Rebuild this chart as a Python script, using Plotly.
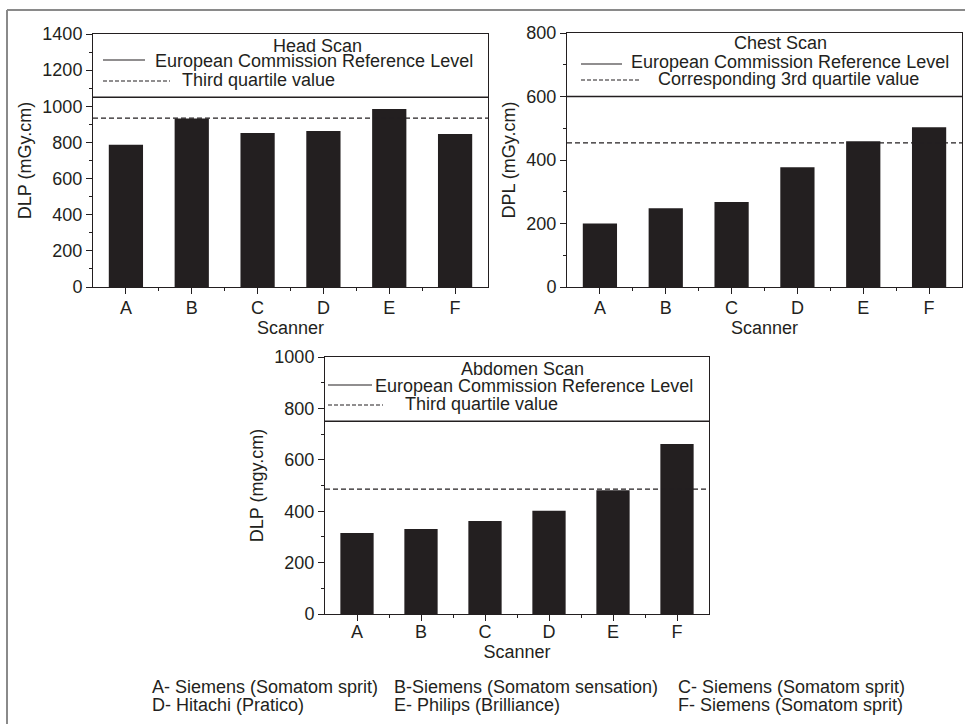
import plotly.graph_objects as go

# ---------------- data ----------------
scanners = ["A", "B", "C", "D", "E", "F"]
head_dlp = [787, 933, 852, 863, 985, 847]
chest_dlp = [200, 248, 268, 377, 459, 503]
abdomen_dlp = [315, 331, 362, 402, 482, 661]

head_ref, head_q3 = 1050, 935
chest_ref, chest_q3 = 600, 454
abdomen_ref, abdomen_q3 = 750, 486

head_ticks = [0, 200, 400, 600, 800, 1000, 1200, 1400]
chest_ticks = [0, 200, 400, 600, 800]
abdomen_ticks = [0, 200, 400, 600, 800, 1000]

legend_ref_text = "European Commission Reference Level"
footnote_rows = [
    ["A- Siemens (Somatom sprit)", "B-Siemens (Somatom sensation)", "C- Siemens (Somatom sprit)"],
    ["D- Hitachi (Pratico)", "E- Philips (Brilliance)", "F- Siemens (Somatom sprit)"],
]

# ---------------- layout helpers ----------------
W, H = 965, 724
INK = "#231f20"
FONT = "Liberation Sans, Arial, sans-serif"


def px(x):
    return x / W


def py(y):
    return 1 - y / H


xpos = list(range(len(scanners)))

fig = go.Figure()

panels = [
    # (values, ref, q3, ticks, ymax, xaxis id, yaxis id, xdom px, ydom px, ytitle, xlabel shift, xtitle standoff)
    (head_dlp, head_ref, head_q3, head_ticks, 1400, "x", "y", (93, 488), (34, 287), "DLP (mGy.cm)", -2, 0),
    (chest_dlp, chest_ref, chest_q3, chest_ticks, 800, "x2", "y2", (567, 962), (33, 287), "DPL (mGy.cm)", -2, 0),
    (abdomen_dlp, abdomen_ref, abdomen_q3, abdomen_ticks, 1000, "x3", "y3", (325, 709), (357, 614), "DLP (mgy.cm)", -5, 0),
]

shapes = []
for vals, ref, q3, ticks, ymax, xa, ya, xd, yd, ytitle, xls, xts in panels:
    fig.add_trace(go.Bar(x=xpos, y=vals, xaxis=xa, yaxis=ya, width=0.52,
                         marker=dict(color=INK, line=dict(width=0)), showlegend=False))
    xkey = "xaxis" + xa[1:]
    ykey = "yaxis" + ya[1:]
    fig.layout[xkey] = dict(
        domain=[px(xd[0]), px(xd[1])], anchor=ya, range=[-0.5, 5.5],
        tickmode="array", tickvals=xpos, ticktext=scanners,
        ticks="outside", ticklen=6, tickwidth=1, tickcolor=INK,
        ticklabelstandoff=xls,
        minor=dict(tickmode="array", tickvals=[i + 0.5 for i in xpos[:-1]], ticks="outside", ticklen=3, tickcolor=INK),
        showline=True, mirror=True, linecolor=INK, linewidth=1,
        showgrid=False, zeroline=False, automargin=False,
        title=dict(text="Scanner", standoff=xts, font=dict(size=18)),
        tickfont=dict(size=18),
    )
    fig.layout[ykey] = dict(
        domain=[py(yd[1]), py(yd[0])], anchor=xa, range=[0, ymax],
        tickmode="array", tickvals=ticks,
        ticks="outside", ticklen=6, tickwidth=1, tickcolor=INK,
        minor=dict(tickmode="linear", tick0=0, dtick=100, ticks="outside", ticklen=3, tickcolor=INK),
        showline=True, mirror=True, linecolor=INK, linewidth=1,
        showgrid=False, zeroline=False, automargin=False,
        title=dict(text=ytitle, standoff=6, font=dict(size=18)),
        tickfont=dict(size=18),
    )
    dref = xa + " domain"
    shapes.append(dict(type="line", xref=dref, yref=ya, x0=0, x1=1, y0=ref, y1=ref,
                       line=dict(color=INK, width=1.3)))
    shapes.append(dict(type="line", xref=dref, yref=ya, x0=0, x1=1, y0=q3, y1=q3,
                       line=dict(color=INK, width=1.2, dash="5px,3px")))

annotations = []
LEG = 18


def legend_block(title, title_xy, ref_xy, q3_text, q3_xy, solid_seg, dash_seg):
    annotations.append(dict(text=title, x=px(title_xy[0]), y=py(title_xy[1]), xref="paper", yref="paper",
                            xanchor="center", yanchor="middle", showarrow=False, font=dict(size=LEG)))
    annotations.append(dict(text=legend_ref_text, x=px(ref_xy[0]), y=py(ref_xy[1]), xref="paper", yref="paper",
                            xanchor="left", yanchor="middle", showarrow=False, font=dict(size=LEG)))
    annotations.append(dict(text=q3_text, x=px(q3_xy[0]), y=py(q3_xy[1]), xref="paper", yref="paper",
                            xanchor="left", yanchor="middle", showarrow=False, font=dict(size=LEG)))
    shapes.append(dict(type="line", xref="paper", yref="paper", x0=px(solid_seg[0]), x1=px(solid_seg[1]),
                       y0=py(solid_seg[2]), y1=py(solid_seg[2]), line=dict(color=INK, width=1.2)))
    shapes.append(dict(type="line", xref="paper", yref="paper", x0=px(dash_seg[0]), x1=px(dash_seg[1]),
                       y0=py(dash_seg[2]), y1=py(dash_seg[2]), line=dict(color=INK, width=1.2, dash="4px,2px")))


legend_block("Head Scan", (317, 46), (153, 61), "Third quartile value", (180, 80),
             (103, 145, 60), (103, 170, 81))
legend_block("Chest Scan", (780, 43), (629, 62), "Corresponding 3rd quartile value", (656, 79),
             (581, 622, 64), (581, 641, 80))
legend_block("Abdomen Scan", (522, 369), (373, 386), "Third quartile value", (403, 404),
             (328, 372, 385), (328, 383, 405))

col_x = [150, 392, 676]
row_y = [687, 705]
for r, row in enumerate(footnote_rows):
    for c, txt in enumerate(row):
        annotations.append(dict(text=txt, x=px(col_x[c]), y=py(row_y[r]), xref="paper", yref="paper",
                                xanchor="left", yanchor="middle", showarrow=False, font=dict(size=18)))

# outer frame (top and left edges visible)
shapes.append(dict(type="line", xref="paper", yref="paper", x0=px(7), x1=1, y0=py(10), y1=py(10),
                   line=dict(color="#8a8a8a", width=2)))
shapes.append(dict(type="line", xref="paper", yref="paper", x0=px(7), x1=px(7), y0=py(10), y1=0,
                   line=dict(color="#8a8a8a", width=2)))

fig.update_layout(
    width=W, height=H, autosize=False,
    margin=dict(l=0, r=0, t=0, b=0, pad=0, autoexpand=False),
    paper_bgcolor="white", plot_bgcolor="white",
    font=dict(family=FONT, size=18, color=INK),
    shapes=shapes, annotations=annotations,
    bargap=0.48, showlegend=False,
)

fig.write_html("out.html",
               config={"displayModeBar": False},
               post_script="document.body.style.margin='0';document.body.style.overflow='hidden';")
